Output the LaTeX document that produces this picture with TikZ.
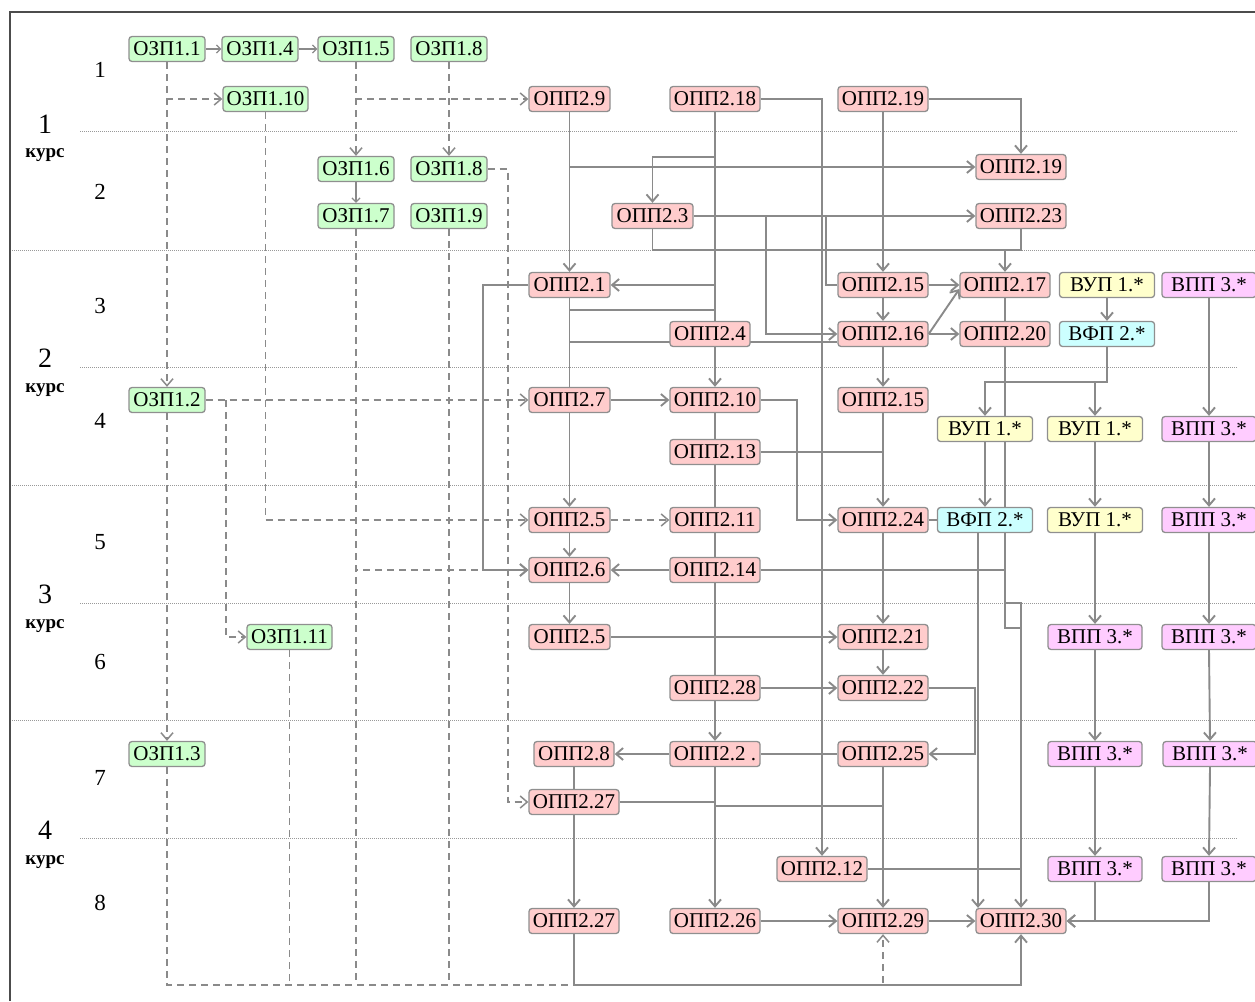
\documentclass[tikz,border=0pt]{standalone}
\usepackage{fontspec}
\setmainfont{Liberation Serif}
\usetikzlibrary{arrows.meta}
\definecolor{lc}{HTML}{8A8A8A}
\definecolor{bd}{HTML}{8F8F8F}
\definecolor{gr}{HTML}{CCFFCC}
\definecolor{pk}{HTML}{FFCCCC}
\definecolor{yl}{HTML}{FFFFCC}
\definecolor{cy}{HTML}{CCFFFF}
\definecolor{mg}{HTML}{FFCCFF}
\pgfdeclarelayer{bg}
\pgfsetlayers{bg,main}
\begin{document}
\begin{tikzpicture}[x=1pt,y=-1pt,
  box/.style={draw=bd, line width=1.3pt, rounded corners=3pt, minimum height=25pt,
    inner xsep=1.5pt, inner ysep=0pt, text height=14pt, text depth=0.5pt,
    font=\fontsize{21}{21}\selectfont},
  gz/.style={box, fill=gr, minimum width=76pt},
  gzw/.style={box, fill=gr, minimum width=85pt},
  ps/.style={box, fill=pk, minimum width=81pt},
  pw/.style={box, fill=pk, minimum width=90pt},
  vu/.style={box, fill=yl, minimum width=95pt},
  vf/.style={box, fill=cy, minimum width=95pt},
  vp/.style={box, fill=mg, minimum width=94pt},
  ln/.style={draw=lc, line width=1.9pt},
  thinln/.style={draw=lc, line width=1.3pt},
  dl/.style={draw=lc, line width=1.5pt, dash pattern=on 7pt off 5pt},
  arr/.style={-{Straight Barb[length=7pt,width=12pt]}},
  sarr/.style={-{Straight Barb[length=4pt,width=8pt]}},
  sepline/.style={draw=gray!80, line width=0.9pt, dash pattern=on 1pt off 1pt},
  frameline/.style={draw=black!70, line width=1.8pt},
  sem/.style={font=\fontsize{23}{23}\selectfont, inner sep=0pt},
  crs/.style={font=\fontsize{28}{28}\selectfont, inner sep=0pt},
  kurs/.style={font=\bfseries\fontsize{19}{19}\selectfont, inner sep=0pt}
]
\useasboundingbox (0,0) rectangle (1255,1001);

% ---- nodes ----
\node[gz] (z11) at (167,49) {ОЗП1.1};
\node[gz] (z14) at (260,49) {ОЗП1.4};
\node[gz] (z15) at (356,49) {ОЗП1.5};
\node[gz] (z18a) at (449,49) {ОЗП1.8};
\node[gzw] (z110) at (265.5,99) {ОЗП1.10};
\node[gz] (z16) at (356,169) {ОЗП1.6};
\node[gz] (z18b) at (449,169) {ОЗП1.8};
\node[gz] (z17) at (356,216) {ОЗП1.7};
\node[gz] (z19) at (449,216) {ОЗП1.9};
\node[gz] (z12) at (167,400) {ОЗП1.2};
\node[gzw] (z111) at (289.5,637) {ОЗП1.11};
\node[gz] (z13) at (167,754) {ОЗП1.3};

\node[ps] (p29) at (569.5,99) {ОПП2.9};
\node[pw] (p218) at (715,99) {ОПП2.18};
\node[pw] (p219a) at (883,99) {ОПП2.19};
\node[pw] (p219b) at (1021,167) {ОПП2.19};
\node[ps] (p23) at (652.5,216) {ОПП2.3};
\node[pw] (p223) at (1021,216) {ОПП2.23};
\node[ps] (p21) at (569.5,285) {ОПП2.1};
\node[pw] (p215a) at (883,285) {ОПП2.15};
\node[pw] (p217) at (1005,285) {ОПП2.17};
\node[vu] (vu1) at (1107,285) {ВУП 1.*};
\node[vp] (vp1) at (1209,285) {ВПП 3.*};
\node[ps, minimum width=80pt] (p24) at (710,334) {ОПП2.4};
\node[pw] (p216) at (883,334) {ОПП2.16};
\node[pw] (p220) at (1005,334) {ОПП2.20};
\node[vf] (vf1) at (1107,334) {ВФП 2.*};
\node[ps] (p27) at (569.5,400) {ОПП2.7};
\node[pw] (p210) at (715,400) {ОПП2.10};
\node[pw] (p215b) at (883,400) {ОПП2.15};
\node[vu] (vu2) at (985,429) {ВУП 1.*};
\node[vu] (vu3) at (1095,429) {ВУП 1.*};
\node[vp] (vp2) at (1209,429) {ВПП 3.*};
\node[pw] (p213) at (715,452) {ОПП2.13};
\node[ps] (p25a) at (569.5,520) {ОПП2.5};
\node[pw] (p211) at (715,520) {ОПП2.11};
\node[pw] (p224) at (883,520) {ОПП2.24};
\node[vf] (vf2) at (985,520) {ВФП 2.*};
\node[vu] (vu4) at (1095,520) {ВУП 1.*};
\node[vp] (vp3) at (1209,520) {ВПП 3.*};
\node[ps] (p26) at (569.5,570) {ОПП2.6};
\node[pw] (p214) at (715,570) {ОПП2.14};
\node[ps] (p25b) at (569.5,637) {ОПП2.5};
\node[pw] (p221) at (883,637) {ОПП2.21};
\node[vp] (vp4) at (1095,637) {ВПП 3.*};
\node[vp] (vp5) at (1209,637) {ВПП 3.*};
\node[pw] (p228) at (715,688) {ОПП2.28};
\node[pw] (p222) at (883,688) {ОПП2.22};
\node[ps, minimum width=80pt] (p28) at (574,754) {ОПП2.8};
\node[pw] (p22) at (715,754) {ОПП2.2 .};
\node[pw] (p225) at (883,754) {ОПП2.25};
\node[vp] (vp6) at (1095,754) {ВПП 3.*};
\node[vp] (vp7) at (1210,754) {ВПП 3.*};
\node[pw] (p227a) at (574,802) {ОПП2.27};
\node[pw] (p212) at (822,869) {ОПП2.12};
\node[vp] (vp8) at (1095,869) {ВПП 3.*};
\node[vp] (vp9) at (1209,869) {ВПП 3.*};
\node[pw] (p227b) at (574,921) {ОПП2.27};
\node[pw] (p226) at (715,921) {ОПП2.26};
\node[pw] (p229) at (883,921) {ОПП2.29};
\node[pw] (p230) at (1021,921) {ОПП2.30};

% ---- labels ----
\node[sem] (s1) at (100,70) {1};
\node[sem] (s2) at (100,192) {2};
\node[sem] (s3) at (100,306) {3};
\node[sem] (s4) at (100,421) {4};
\node[sem] (s5) at (100,542) {5};
\node[sem] (s6) at (100,662) {6};
\node[sem] (s7) at (100,778) {7};
\node[sem] (s8) at (100,903) {8};
\node[crs] (c1) at (45,124) {1};
\node[kurs] (k1) at (45,155) {курс};
\node[crs] (c2) at (45,358) {2};
\node[kurs] (k2) at (45,390) {курс};
\node[crs] (c3) at (45,594) {3};
\node[kurs] (k3) at (45,626) {курс};
\node[crs] (c4) at (45,830) {4};
\node[kurs] (k4) at (45,862) {курс};

\begin{pgfonlayer}{bg}
% separators and frame
\foreach \yy/\aa/\bb in {131/80/1237, 250/10/1255, 367/80/1237, 485/10/1255, 603/80/1255, 720/10/1255, 838/80/1237}
  \draw[sepline] (\aa,\yy) -- (\bb,\yy);
\draw[frameline] (10,1001) -- (10,12) -- (1255,12);

% ---- dashed (ОЗП) ----
\draw[thinln,sarr] (z11.east) -- (z14.west);
\draw[thinln,sarr] (z14.east) -- (z15.west);
\draw[dl,arr] (z11.south) -- (z12.north);
\draw[dl,arr] (z11.south) |- (z110.west);
\draw[dl,arr] (z12.south) -- (z13.north);
\draw[dl,arr] (z12.east) -- (p27.west);
\draw[dl,arr] (z12.east -| 226,0) |- (z111.west);
\draw[dl,arr] (z110.south) |- (p25a.west);
\draw[dl,arr] (z15.south) -- (z16.north);
\draw[dl,arr] (z15.south) |- (p29.west);
\draw[thinln,sarr] (z16.south) -- (z17.north);
\draw[dl,arr] (z18a.south) -- (z18b.north);
\draw[dl,arr] (z18b.east) -- (z18b.east -| 508,0) |- (p227a.west);
\draw[dl,arr] (z17.south) |- (p26.west);
\draw[dl] (z17.south) -- (z17.south |- 0,985);
\draw[dl] (z19.south) -- (z19.south |- 0,985);
\draw[dl] (z111.south) -- (z111.south |- 0,985);
\draw[dl,arr] (z13.south) |- (p229.south |- 0,985) -- (p229.south);
\draw[dl,arr] (p25a.east) -- (p211.west);

% ---- solid (ОПП) ----
\draw[ln,arr] (p29.south) -- (p21.north);
\draw[ln,arr] (p29.south |- 0,167) -- (p219b.west);
\draw[ln,arr] (p218.east) -| (p212.north);
\draw[ln] (p218.south) -- (p218.south |- p24.north);
\draw[ln,arr] (p218.south |- 0,157) -| (p23.north);
\draw[ln,arr] (p218.south |- 0,285) -- (p21.east);
\draw[ln] (p21.south |- 0,310) -- (p218.south |- 0,310);
\draw[ln] (p21.south |- 0,342) -- (p216.west |- 0,342);
\draw[ln] (p21.south) -- (p27.north);
\draw[ln,arr] (p21.west) -- (p21.west -| 483,0) |- (p26.west);
\draw[ln,arr] (p23.east) -- (p223.west);
\draw[ln,arr] (p23.east -| 766,0) |- (p216.west);
\draw[ln] (p23.east -| 826,0) |- (p215a.west);
\draw[ln,arr] (p23.south) |- (p217.north |- 0,250) -- (p217.north);
\draw[ln] (p223.south) |- (p217.north |- 0,250);
\draw[ln,arr] (p219a.east) -| (p219b.north);
\draw[ln,arr] (p219a.south) -- (p215a.north);
\draw[ln,arr] (p215a.east) -- (p217.west);
\draw[ln,arr] (p215a.south) -- (p216.north);
\draw[ln,arr] (p216.east) -- (p220.west);
\draw[ln,arr] (p216.east) -- ([yshift=-4pt]p217.west);
\draw[ln,arr] (p216.south) -- (p215b.north);
\draw[ln] (p217.south) -- (p220.north);
\draw[ln,arr] (p220.south) -- (p220.south |- 0,628) -| (p230.north);
\draw[ln] (p220.south |- 0,603) -| (p230.north |- 0,628);
\draw[ln] (p214.east) -- (p220.south |- 0,570);
\draw[ln] (p212.east) -- (p230.north |- 0,869);
\draw[ln,arr] (vf2.south -| 978,0) -- (p230.north -| 978,0);
\draw[ln] (p224.east) -- (vf2.west);
\draw[ln,arr] (vu1.south) -- (vf1.north);
\draw[ln,arr] (vf1.south) -- (vf1.south |- 0,382) -| (vu2.north);
\draw[ln,arr] (vf1.south |- 0,382) -| (vu3.north);
\draw[ln,arr] (vu2.south) -- (vf2.north);
\draw[ln,arr] (vu3.south) -- (vu4.north);
\draw[ln,arr] (vu4.south) -- (vp4.north);
\draw[ln,arr] (vp4.south) -- (vp6.north);
\draw[ln,arr] (vp6.south) -- (vp8.north);
\draw[ln,arr] (vp8.south) |- (p230.east);
\draw[ln,arr] (vp9.south) |- (p230.east);
\draw[ln,arr] (vp1.south) -- (vp2.north);
\draw[ln,arr] (vp2.south) -- (vp3.north);
\draw[ln,arr] (vp3.south) -- (vp5.north);
\draw[ln,arr] (vp5.south) -- (vp7.north);
\draw[ln,arr] (vp7.south) -- (vp9.north);
\draw[ln,arr] (p27.east) -- (p210.west);
\draw[ln,arr] (p27.south) -- (p25a.north);
\draw[ln,arr] (p24.south -| p210.north) -- (p210.north);
\draw[ln] (p210.south) -- (p213.north);
\draw[ln] (p213.south) -- (p211.north);
\draw[ln] (p211.south) -- (p214.north);
\draw[ln] (p214.south) -- (p228.north);
\draw[ln,arr] (p228.south) -- (p22.north);
\draw[ln,arr] (p22.south) -- (p226.north);
\draw[ln,arr] (p210.east) -- (p210.east -| 797,0) |- (p224.west);
\draw[ln] (p213.east) -- (p215b.south |- 0,452);
\draw[ln,arr] (p215b.south) -- (p224.north);
\draw[ln,arr] (p25a.south) -- (p26.north);
\draw[ln,arr] (p214.west) -- (p26.east);
\draw[ln,arr] (p26.south) -- (p25b.north);
\draw[ln,arr] (p25b.east) -- (p221.west);
\draw[ln,arr] (p224.south) -- (p221.north);
\draw[ln,arr] (p221.south) -- (p222.north);
\draw[ln,arr] (p228.east) -- (p222.west);
\draw[ln,arr] (p222.east) -- (p222.east -| 975,0) |- (p225.east);
\draw[ln,arr] (p22.west) -- (p28.east);
\draw[ln] (p22.east) -- (p225.west);
\draw[ln] (p28.south) -- (p227a.north);
\draw[ln] (p227a.east) -- (p227a.east -| p22.south) |- (p225.south |- 0,806);
\draw[ln,arr] (p225.south) -- (p229.north);
\draw[ln,arr] (p227a.south) -- (p227b.north);
\draw[ln,arr] (p226.east) -- (p229.west);
\draw[ln,arr] (p229.east) -- (p230.west);
\draw[ln,arr] (p227b.south) -- (p227b.south |- 0,985) -| (p230.south);
\end{pgfonlayer}
\end{tikzpicture}
\end{document}
